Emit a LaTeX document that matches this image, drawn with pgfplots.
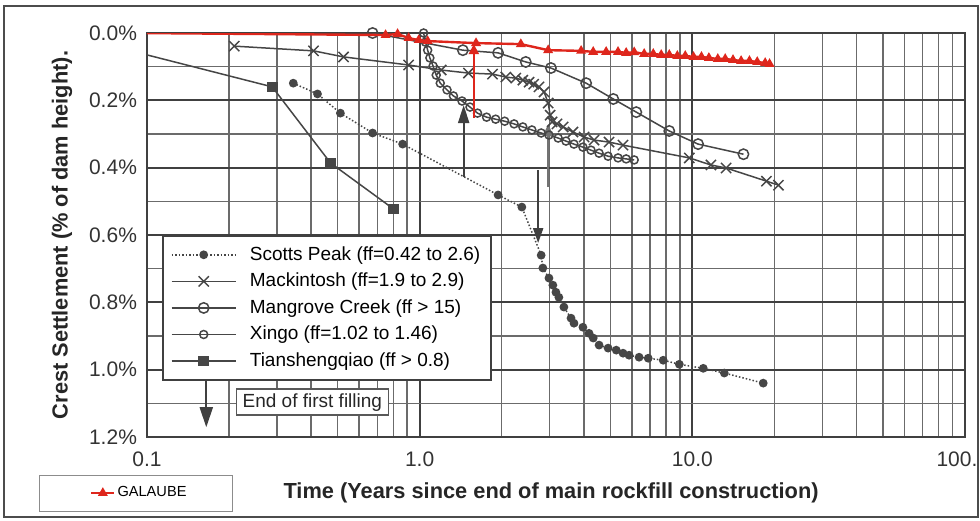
\documentclass[border=0pt]{standalone}
\usepackage{pgfplots}
\pgfplotsset{compat=1.18}
\usetikzlibrary{arrows.meta}
\usepackage{fontspec}
\setmainfont{Liberation Sans}
\definecolor{ser}{RGB}{70,70,70}
\definecolor{gred}{RGB}{222,38,28}
\begin{document}
\begin{tikzpicture}
\begin{axis}[
  at={(0,0)}, anchor=south west,
  scale only axis, width=409pt, height=202pt,
  xmode=log, xmin=0.1, xmax=100, ymin=0, ymax=1.2, y dir=reverse,
  xtick={0.1,1,10,100}, xticklabels={0.1,1.0,10.0,\hspace*{-8pt}100.},
  ytick={0,0.2,0.4,0.6,0.8,1.0,1.2},
  yticklabels={0.0\%,0.2\%,0.4\%,0.6\%,0.8\%,1.0\%,1.2\%},
  minor y tick num=1,
  grid=both,
  major grid style={black!75, line width=1.05pt},
  minor grid style={black!58, line width=0.7pt},
  major tick length=0pt, minor tick length=0pt,
  axis line style={black!75, line width=1pt},
  tick label style={font=\fontsize{10.5}{12}\selectfont, text=black!80},
  yticklabel style={xshift=-1.5pt},
  xticklabel style={yshift=-4pt},
  xlabel={Time (Years since end of main rockfill construction)},
  ylabel={Crest Settlement (\% of dam height).},
  label style={font=\bfseries\fontsize{10.9}{12}\selectfont, text=black!85},
  xlabel style={at={(axis description cs:0.494,-0.1386)}, anchor=center},
  ylabel style={at={(axis description cs:-0.104,0.5)}, anchor=center},
  legend style={at={(axis description cs:0.0183,0.5)}, anchor=north west,
    draw=black!75, line width=1pt, fill=white,
    font=\fontsize{9.5}{11}\selectfont, inner xsep=4pt, inner ysep=4pt,
    row sep=2.5pt, nodes={inner sep=1.2pt}, cells={anchor=west}},
  legend image code/.code={\draw[#1, mark repeat=2, mark phase=2] plot coordinates {(0pt,0pt) (16pt,0pt) (32pt,0pt)}; \path (37.5pt,0pt);},
]
\addplot[ser, line width=0.75pt, densely dotted, mark=*, mark size=1.8pt, mark options={solid, fill=ser}] coordinates {
(0.344,0.149)(0.422,0.181)(0.512,0.238)(0.672,0.297)(0.866,0.330)(1.94,0.481)(2.37,0.517)(2.79,0.660)(2.83,0.698)(2.98,0.728)(3.08,0.749)(3.16,0.770)(3.24,0.785)(3.38,0.814)(3.59,0.847)(3.68,0.862)(3.97,0.874)(4.18,0.892)(4.33,0.906)(4.55,0.927)(4.91,0.936)(5.26,0.942)(5.57,0.951)(5.86,0.957)(6.38,0.963)(6.89,0.966)(7.82,0.972)(8.96,0.984)(10.97,0.996)(13.1,1.010)(18.2,1.040)};
\addlegendentry{Scotts Peak (ff=0.42 to 2.6)}
\addplot[ser, line width=0.75pt, mark=x, mark size=3.6pt, mark options={solid}] coordinates {
(0.209,0.039)(0.408,0.053)(0.526,0.071)(0.911,0.095)(1.20,0.110)(1.51,0.119)(1.85,0.122)(2.07,0.131)(2.25,0.134)(2.39,0.140)(2.52,0.146)(2.62,0.152)(2.74,0.160)(2.86,0.175)(2.96,0.208)(3.01,0.244)(3.06,0.264)(3.19,0.270)(3.36,0.279)(3.65,0.294)(4.01,0.309)(4.36,0.318)(4.95,0.324)(5.57,0.333)(9.75,0.371)(11.7,0.392)(13.3,0.401)(18.7,0.440)(20.7,0.452)};
\addlegendentry{Mackintosh (ff=1.9 to 2.9)}
\addplot[ser, line width=0.75pt, mark=o, mark size=2.6pt, mark options={solid}] coordinates {
(0.672,0.0)(1.44,0.051)(1.94,0.059)(2.45,0.086)(3.03,0.104)(4.08,0.149)(5.13,0.196)(6.23,0.235)(8.23,0.291)(10.5,0.330)(15.4,0.360)};
\addlegendentry{Mangrove Creek (ff > 15)}
\addplot[ser, line width=0.75pt, mark=o, mark size=2pt, mark options={solid}] coordinates {
(1.034,0.000)(1.05,0.027)(1.07,0.051)(1.09,0.074)(1.12,0.098)(1.15,0.125)(1.19,0.149)(1.26,0.169)(1.33,0.187)(1.43,0.202)(1.53,0.220)(1.63,0.238)(1.76,0.250)(1.90,0.256)(2.05,0.262)(2.22,0.270)(2.39,0.279)(2.58,0.288)(2.79,0.297)(2.98,0.303)(3.22,0.312)(3.44,0.321)(3.68,0.330)(3.97,0.339)(4.25,0.348)(4.55,0.357)(4.91,0.366)(5.34,0.371)(5.72,0.374)(6.12,0.377)};
\addlegendentry{Xingo (ff=1.02 to 1.46)}
\addplot[ser, line width=0.75pt, mark=square*, mark size=2.3pt, mark options={solid, fill=ser}] coordinates {
(0.08,0.045)(0.288,0.160)(0.471,0.386)(0.803,0.523)};
\addlegendentry{Tianshengqiao (ff > 0.8)}
\draw[black!75, line width=1pt, -{Triangle[length=9pt,width=5.5pt]}] (axis cs:1.45,0.428) -- (axis cs:1.45,0.214);
\draw[black!75, line width=1pt, -{Triangle[length=7.5pt,width=5pt]}] (axis cs:2.72,0.407) -- (axis cs:2.72,0.624);
\draw[black!55, line width=1.3pt, -{Triangle[length=6pt,width=5pt]}] (axis cs:2.96,0.458) -- (axis cs:2.96,0.27);
\draw[black!75, line width=1pt, -{Triangle[length=10pt,width=6.5pt]}] (axis cs:0.165,1.031) -- (axis cs:0.165,1.171);
\node[draw=black!65, line width=0.7pt, fill=white, minimum width=76pt, minimum height=13pt, inner sep=2pt, font=\fontsize{9.5}{11}\selectfont, text=black!85] at (axis cs:0.404,1.0966) {End of first filling};
\end{axis}
\begin{axis}[
  at={(0,0)}, anchor=south west,
  scale only axis, width=409pt, height=202pt,
  xmode=log, xmin=0.1, xmax=100, ymin=0, ymax=1.2, y dir=reverse,
  hide axis,
  legend style={at={(axis description cs:-0.07,-0.1386)}, anchor=west,
    draw=none, fill=none, font=\fontsize{7.3}{9}\selectfont, inner sep=0pt,
    nodes={inner sep=1pt}},
  legend image code/.code={\draw[#1, mark repeat=2, mark phase=2] plot coordinates {(0pt,0pt) (5.75pt,0pt) (11.5pt,0pt)};},
]
\addplot[gred, line width=1.2pt, mark=triangle*, mark size=1.7pt, mark options={solid, fill=gred}] coordinates {
(0.09,0.0)(0.750,0.006)(0.830,0.003)(0.911,0.015)(0.992,0.021)(1.07,0.024)(1.61,0.030)(2.35,0.033)(2.96,0.051)(3.91,0.053)(4.33,0.056)(4.83,0.056)(5.34,0.056)(5.72,0.059)(6.12,0.057)(6.66,0.062)(7.19,0.062)(7.69,0.065)(8.23,0.065)(8.81,0.068)(9.42,0.068)(10.1,0.071)(10.8,0.071)(11.5,0.074)(12.4,0.077)(13.2,0.077)(14.1,0.080)(15.1,0.083)(16.2,0.083)(17.3,0.086)(18.5,0.089)(19.2,0.092)};
\addlegendentry{GALAUBE}
\draw[gred, line width=1.1pt, -{Triangle[length=5pt,width=5pt]}] (axis cs:1.58,0.253) -- (axis cs:1.58,0.033);
\end{axis}
\draw[black!45, line width=0.5pt] (-53.5pt,-19pt) rectangle (43pt,-37pt);
\draw[black!70, line width=1pt] (-71.5pt,215.5pt) rectangle (415.5pt,-40pt);
\pgfresetboundingbox
\path[use as bounding box] (-73.5pt,-41.5pt) rectangle (416.5pt,218.5pt);
\end{tikzpicture}
\end{document}
